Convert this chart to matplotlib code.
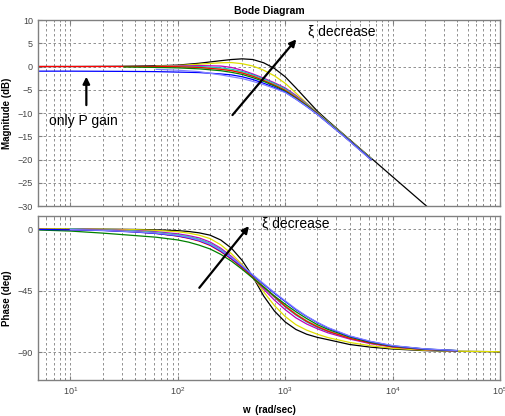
import numpy as np
import matplotlib
matplotlib.use("Agg")
import matplotlib.pyplot as plt
from matplotlib.ticker import LogLocator, NullFormatter

plt.rcParams['font.family'] = ['Liberation Sans', 'DejaVu Sans']
plt.rcParams['mathtext.fontset'] = 'custom'
plt.rcParams['mathtext.rm'] = 'Liberation Sans'

nan = np.nan

# frequency points (rad/sec) for the magnitude curves
W_MAG = [5, 10, 31.6, 63, 100, 158, 251, 316, 398, 501, 631, 794, 1000,
         1259, 1585, 1995, 2512, 3162, 3981, 5012, 6310, 10000, 19953, 31623]

# magnitude (dB)
MAG = {
    'black':   [0, 0, 0.05, 0.15, 0.3, 0.7, 1.25, 1.5, 1.65, 1.5, 0.8, -0.4, -2.2,
                -4.6, -7.1, -9.6, -11.7, -13.7, -15.7, -17.7, -19.7, -23.7, -29.7, -33.7],
    '#dede00': [nan, nan, nan, 0.1, 0.2, 0.5, 0.8, 0.85, 0.6, 0.1, -0.8, -2.0, -3.6,
                -5.7, -7.9, -9.9, -11.9, -13.8, -15.8, -17.8, -19.8, nan, nan, nan],
    'm':       [nan, nan, nan, 0, 0.1, 0.2, 0.1, -0.2, -0.8, -1.6, -2.5, -3.5, -4.6,
                -6.2, -8.0, -10.0, -12.0, -13.9, -15.9, -17.9, -19.9, nan, nan, nan],
    'c':       [nan, nan, nan, 0, 0, 0, -0.3, -0.6, -1.1, -1.8, -2.7, -3.7, -4.8,
                -6.4, -8.1, -10.0, -12.0, -13.9, -15.9, -17.9, -19.9, nan, nan, nan],
    '#80e080': [nan, nan, 0, -0.05, -0.1, -0.2, -0.5, -0.8, -1.3, -2.0, -2.9, -3.9, -5.0,
                -6.5, -8.2, -10.1, -12.0, -14.0, -16.0, -18.0, -19.9, nan, nan, nan],
    'r':       [0, 0, 0, 0, -0.05, -0.2, -0.6, -0.9, -1.4, -2.1, -3.0, -4.0, -5.1,
                -6.6, -8.3, -10.1, -12.1, -14.0, -16.0, -18.0, -20.0, nan, nan, nan],
    'g':       [nan, nan, -0.1, -0.2, -0.3, -0.5, -0.9, -1.25, -1.7, -2.4, -3.2, -4.2, -5.3,
                -6.8, -8.4, -10.2, -12.1, -14.0, -16.0, -18.0, -20.0, nan, nan, nan],
    'b':       [-1.0, -1.0, -1.05, -1.1, -1.2, -1.3, -1.6, -1.8, -2.2, -2.8, -3.6, -4.5, -5.5,
                -7.0, -8.6, -10.3, -12.2, -14.1, -16.0, -18.0, -20.0, nan, nan, nan],
    '#8080ff': [nan, nan, nan, -0.6, -0.8, -1.1, -1.8, -2.2, -2.6, -3.2, -3.9, -4.7, -5.6,
                -7.0, -8.6, -10.3, -12.2, -14.1, -16.1, -18.1, -20.1, nan, nan, nan],
}

# frequency points (rad/sec) for the phase curves
W_PH = [5, 10, 20, 40, 63, 100, 126, 158, 200, 251, 316, 398, 501, 631, 794,
        1000, 1259, 1585, 1995, 2512, 3981, 6310, 10000, 19953, 39811, 100000]

# phase (deg)
PHASE = {
    'black':   [0, 0, -0.1, -0.3, -0.6, -1.2, -1.8, -2.8, -4.5, -8, -14, -23, -35, -49, -60,
                -68, -73.5, -77, -79.3, -81, -84.5, -86.5, -87.8, -89, -89.5, -89.8],
    '#dede00': [0, 0, -0.2, -0.5, -1.0, -2.0, -3.0, -4.5, -7.0, -11.5, -18, -26, -35, -46, -56,
                -64, -70, -74, -77, -79.5, -83, -85.5, -87.3, -88.7, -89.4, -89.8],
    'm':       [nan, 0, -0.5, -1.2, -2.0, -3.5, -4.8, -6.5, -9.5, -14, -20, -27, -35.5, -44, -52,
                -59, -65, -69.5, -73, -76, -80.5, -84, -86.3, -88.2, -89.3, nan],
    'c':       [nan, 0, -0.7, -1.5, -2.5, -4.2, -5.6, -7.5, -10.5, -15, -21, -27.5, -35, -42.5, -50,
                -57, -63, -68, -72, -75, -80, -83.5, -86, -88, -89.2, nan],
    '#80e080': [nan, -0.2, -0.8, -1.7, -2.8, -4.6, -6.0, -8.0, -11, -15.5, -21.5, -28, -35, -42, -49.3,
                -56, -62, -67, -71, -74.5, -79.5, -83, -85.7, -87.8, -89, nan],
    'r':       [-0.3, -0.5, -0.9, -2.0, -3.2, -5.2, -6.8, -8.8, -12, -16.5, -22, -28.5, -35.5, -42.5, -49.5,
                -56.5, -62.5, -67.5, -71.5, -74.8, -80, -83.5, -86.2, -88.1, -89.1, nan],
    'g':       [-0.7, -1.5, -3.0, -4.8, -6.0, -8.0, -9.6, -11.8, -14.6, -18.5, -23.5, -29.5, -36, -42.5, -49,
                -55, -60.5, -65.5, -70, -73.5, -79, -83, -85.8, -88, -89, nan],
    'b':       [-0.3, -0.6, -1.1, -2.2, -3.3, -5.0, -6.5, -8.4, -11.5, -16, -21.5, -27.5, -34, -40.5, -47,
                -53, -59, -64, -68.5, -72.5, -78.5, -82.5, -85.5, -87.8, -89, nan],
    '#8080ff': [nan, -0.4, -1.0, -2.0, -3.0, -4.7, -6.2, -8.2, -11.2, -15.6, -21, -27, -33.5, -40, -46.5,
                -52.5, -58.5, -63.8, -68.3, -72.2, -78.2, -82.3, -85.3, -87.7, -88.9, nan],
}

MAG_TICKS = [10, 5, 0, -5, -10, -15, -20, -25, -30]
PH_TICKS = [0, -45, -90]

GRAY = '#808080'
fig = plt.figure(figsize=(5.05, 4.16), dpi=100)
ax1 = fig.add_axes([0.0752, 0.5048, 0.9149, 0.4471])
ax2 = fig.add_axes([0.0752, 0.0865, 0.9149, 0.3942])

for col, vals in MAG.items():
    ax1.semilogx(W_MAG, vals, color=col, lw=0.9)
for col, vals in PHASE.items():
    ax2.semilogx(W_PH, vals, color=col, lw=0.9)

for ax in (ax1, ax2):
    ax.set_xlim(5, 1e5)
    ax.xaxis.set_major_locator(LogLocator(base=10, numticks=10))
    ax.xaxis.set_minor_locator(LogLocator(base=10, subs=np.arange(2, 10), numticks=10))
    ax.xaxis.set_minor_formatter(NullFormatter())
    ax.grid(True, which='both', axis='x', color=GRAY, ls=(0, (3, 3)), lw=0.6)
    ax.grid(True, which='major', axis='y', color=GRAY, ls=(0, (3, 3)), lw=0.6)
    ax.tick_params(which='both', direction='in', colors=GRAY, labelcolor='#444444',
                   labelsize=6.5, top=True, right=True, length=3)
    ax.tick_params(which='minor', length=1.5)
    for sp in ax.spines.values():
        sp.set_color(GRAY)
        sp.set_linewidth(1.0)

ax1.set_ylim(-30, 10)
ax1.set_yticks(MAG_TICKS)
ax1.tick_params(axis='x', labelbottom=False)
ax1.set_ylabel('Magnitude (dB)', fontsize=7, fontweight='bold', labelpad=4)
ax1.set_title('Bode Diagram', fontsize=7.5, fontweight='bold', pad=4)

ax2.set_ylim(-110.5, 9.5)
ax2.set_yticks(PH_TICKS)
ax2.set_ylabel('Phase (deg)', fontsize=7, fontweight='bold', labelpad=4)
ax2.set_xlabel('w  (rad/sec)', fontsize=7, fontweight='bold', labelpad=6)

# annotations
arrow = dict(arrowstyle='-|>', color='black', lw=1.6, mutation_scale=10)
ax1.annotate('', xy=(14.1, -1.6), xytext=(14.1, -8.9), arrowprops=arrow)
ax1.text(6.4, -11.8, 'only P gain', fontsize=10, va='center', ha='left')
ax1.annotate('', xy=(1320, 6.3), xytext=(311, -10.9), arrowprops=arrow)
ax1.text(1640, 7.6, 'ξ decrease', fontsize=10, va='center', ha='left')
ax2.annotate('', xy=(478, 3.7), xytext=(153, -44.6), arrowprops=arrow)
ax2.text(611, 3.7, 'ξ decrease', fontsize=10, va='center', ha='left')

fig.savefig('out.png', dpi=100)
